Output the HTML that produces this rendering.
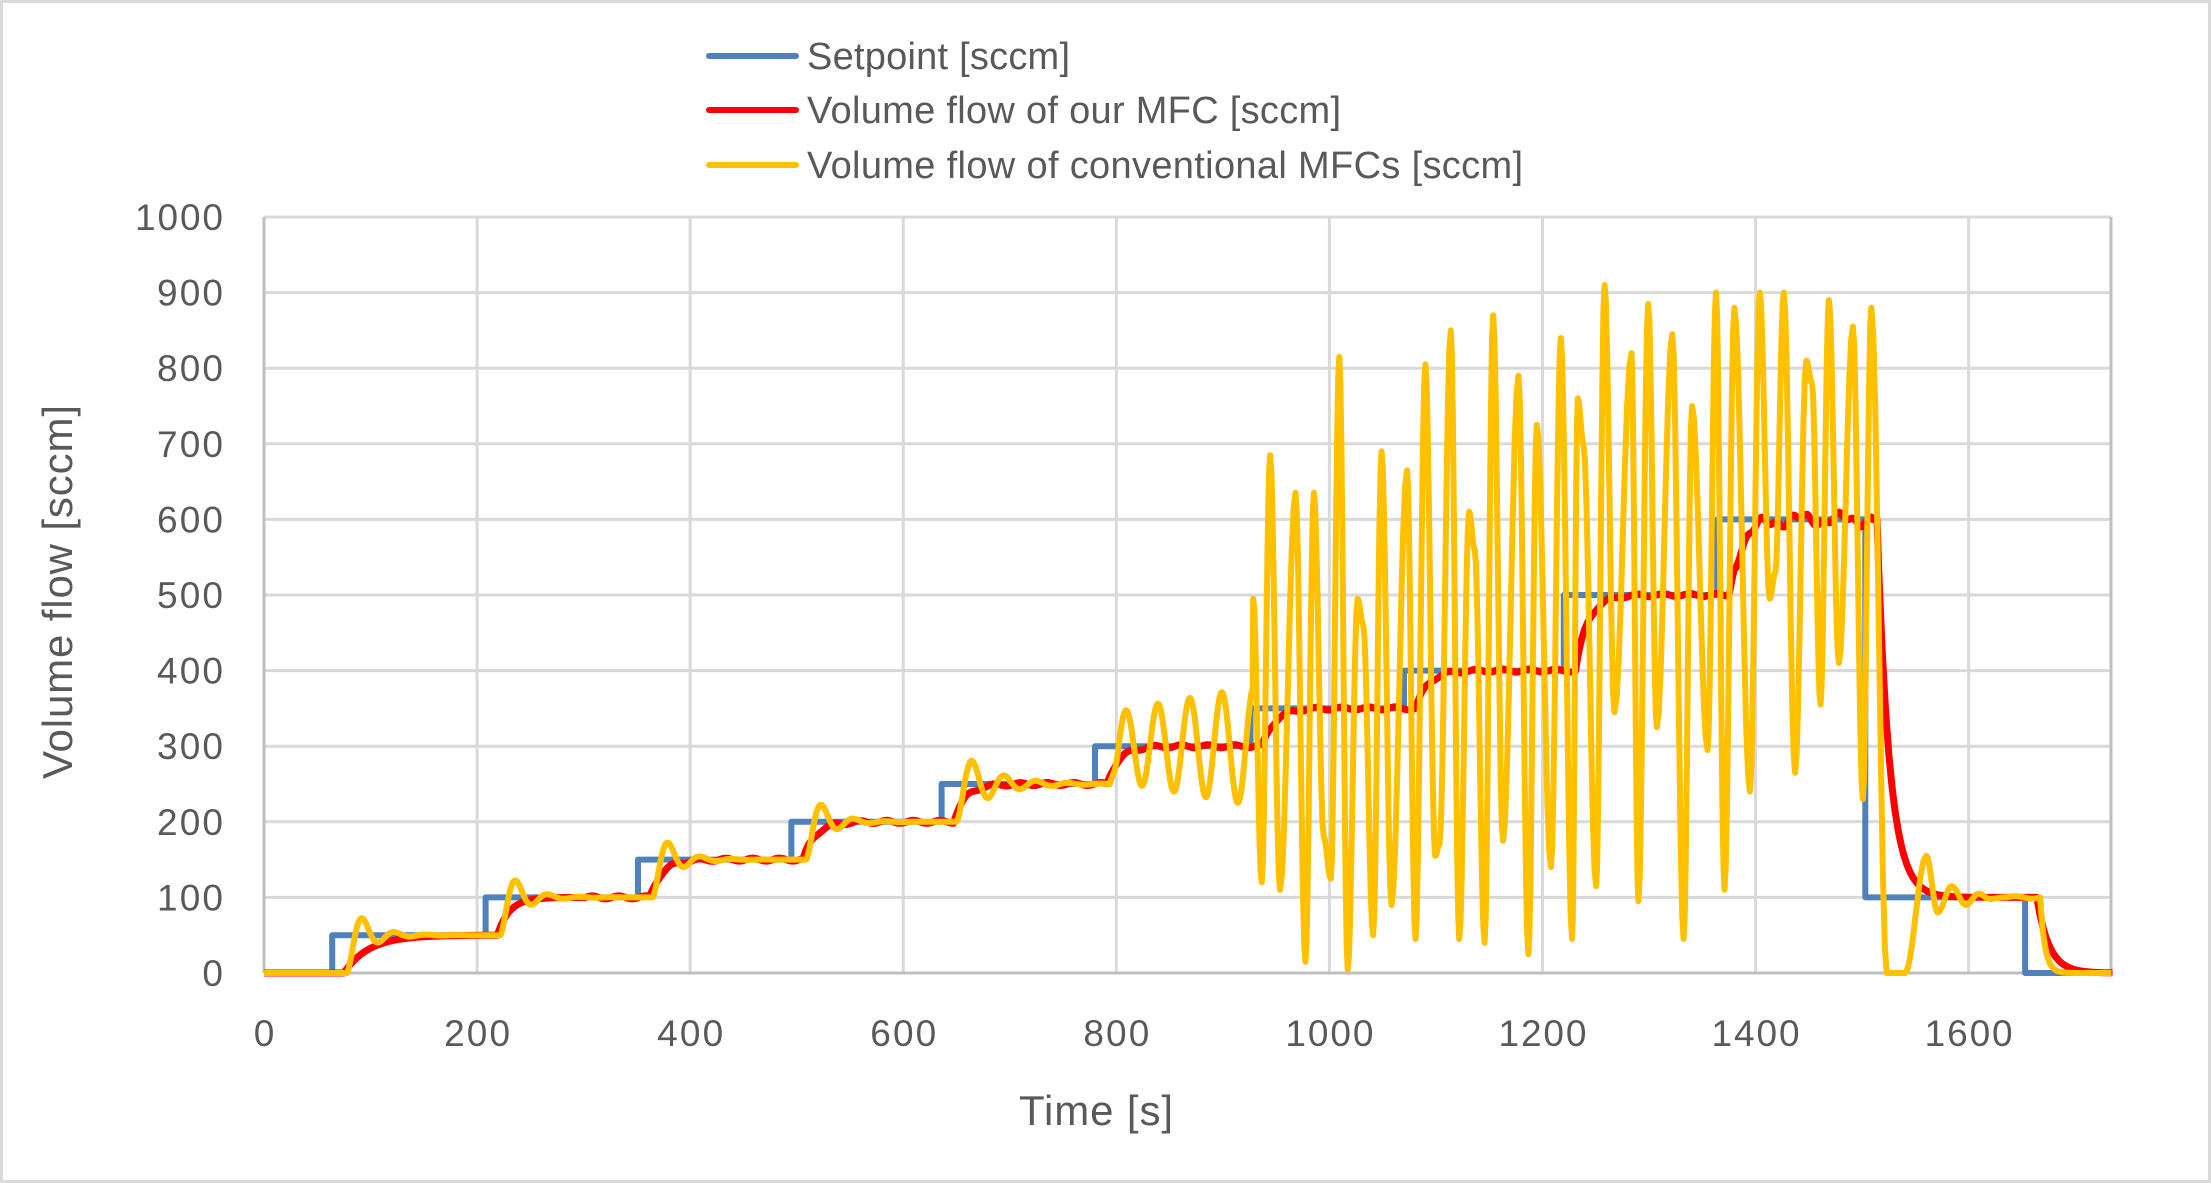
<!DOCTYPE html>
<html><head><meta charset="utf-8"><style>
html,body{margin:0;padding:0;background:#fff;}
svg{display:block;font-family:"Liberation Sans",sans-serif;}
</style></head><body>
<svg id="c" width="2211" height="1183" viewBox="0 0 2211 1183" xmlns="http://www.w3.org/2000/svg">
<rect x="1.5" y="1.5" width="2208" height="1180" fill="#fff" stroke="#d9d9d9" stroke-width="3"/>
<g id="grid" stroke="#d9d9d9" stroke-width="3"></g>
<g id="labels" fill="#595959" font-size="37"></g>
<text x="1096" y="1125" font-size="42" fill="#595959" text-anchor="middle" textLength="154">Time [s]</text>
<text transform="translate(72,592) rotate(-90)" font-size="42" fill="#595959" text-anchor="middle" textLength="374">Volume flow [sccm]</text>
<g font-size="38" fill="#595959">
<line x1="709" y1="56" x2="796" y2="56" stroke="#4f81bd" stroke-width="6" stroke-linecap="round"/>
<text x="807" y="69" textLength="263">Setpoint [sccm]</text>
<line x1="709" y1="110" x2="796" y2="110" stroke="#ff0000" stroke-width="6" stroke-linecap="round"/>
<text x="807" y="123" textLength="534">Volume flow of our MFC [sccm]</text>
<line x1="709" y1="165" x2="796" y2="165" stroke="#ffc000" stroke-width="6" stroke-linecap="round"/>
<text x="807" y="178" textLength="716">Volume flow of conventional MFCs [sccm]</text>
</g>
<g id="series" fill="none" stroke-linejoin="round"></g>
</svg>
<script>
var NS="http://www.w3.org/2000/svg";
function X(t){return 264+t*1.0654;}
function Y(v){return 973-v*0.756;}
var g=document.getElementById('grid'),L=document.getElementById('labels'),S=document.getElementById('series');
function el(p,tag,a,txt){var e=document.createElementNS(NS,tag);for(var k in a)e.setAttribute(k,a[k]);if(txt!=null)e.textContent=txt;p.appendChild(e);return e;}
for(var v=100;v<=1000;v+=100)el(g,'line',{x1:264,x2:2111,y1:Y(v),y2:Y(v)});
for(var t=200;t<=1600;t+=200)el(g,'line',{x1:X(t),x2:X(t),y1:217,y2:973});
el(g,'line',{x1:2111,x2:2111,y1:217,y2:973,stroke:'#bfbfbf'});
el(g,'line',{x1:264,x2:264,y1:217,y2:973,stroke:'#bfbfbf'});
el(g,'line',{x1:264,x2:2111,y1:973,y2:973,stroke:'#bfbfbf'});
for(var v=0;v<=1000;v+=100){var s=String(v);el(L,'text',{x:223,y:Y(v)+13,'text-anchor':'end',textLength:s.length*22},s);}
for(var t=0;t<=1600;t+=200){var s=String(t);el(L,'text',{x:X(t),y:1046,'text-anchor':'middle',textLength:s.length*22},s);}
var steps=[[0,0],[64,50],[208,100],[351,150],[495,200],[636,250],[780,300],[926,350],[1070,400],[1220,500],[1364,600],[1503,100],[1653,0],[1735,0]];
function sp(t){var s=0;for(var i=0;i<steps.length;i++)if(t>=steps[i][0])s=steps[i][1];return s;}
var d='M'+X(0)+','+Y(0);
for(var i=1;i<steps.length;i++){d+=' L'+X(steps[i][0])+','+Y(steps[i-1][1])+' L'+X(steps[i][0])+','+Y(steps[i][1]);}
el(S,'path',{d:d,stroke:'#4f81bd','stroke-width':6});
var r=0,pts=[];
for(var t=0;t<=1735;t+=1){var target=sp(t-12);var tau=(t<200)?24:12;r+=(target-r)/tau;var n=0;if(t>1380&&t<1510)n=6*Math.sin(t/6)+4*Math.sin(t/2.3);else if(t>300&&t<1500)n=2*Math.sin(t/4);pts.push(X(t).toFixed(1)+','+Y(r+n).toFixed(1));}
el(S,'path',{d:'M'+pts.join(' L'),stroke:'#ff0000','stroke-width':7});
function damp(t){var s=0,prev=0,t0=0;for(var i=0;i<steps.length;i++)if(t>=steps[i][0]+14){prev=(i>0?steps[i-1][1]:0);s=steps[i][1];t0=steps[i][0]+14;}
 var tt=t-t0;if(t0==0)return 0;var P=30,td=(s>=250?30:18);
 if(s>=300){var amp=45+tt*0.25;var base=s+(prev-s)*Math.exp(-tt/4);return base-amp*Math.cos(2*Math.PI*tt/P)*Math.min(1,tt/8);}
 return s+(prev-s)*Math.exp(-tt/td)*Math.cos(2*Math.PI*tt/P);}
var ext=[[888,495],[894,120],[900,685],[907,110],[918,635],[925,15],[931,635],[938,180],[943,125],[949,815],[955,5],[962,495],[966,460],[973,50],[979,690],[986,90],[997,665],[1003,45],[1010,805],[1017,155],[1020,170],[1028,850],[1034,45],[1041,610],[1045,560],[1052,40],[1058,870],[1065,175],[1076,790],[1083,25],[1089,725],[1099,140],[1106,840],[1114,45],[1118,760],[1122,700],[1131,115],[1137,910],[1144,345],[1156,820],[1161,95],[1168,885],[1174,325],[1185,845],[1193,45],[1199,750],[1210,295],[1216,900],[1222,110],[1229,880],[1240,240],[1247,900],[1254,495],[1258,530],[1264,900],[1272,265],[1280,810],[1284,780],[1290,355],[1296,890],[1303,410],[1313,855],[1320,230],[1326,880],[1337,0],[1350,0],[1365,155],[1373,80],[1383,115],[1393,90],[1402,105],[1410,98],[1420,100]];
var ye=ext.map(function(p){return[(p[0]-187)/0.755,p[1]];});
var yp=[];
for(var t=0;t<ye[0][0];t+=0.5){yp.push(X(t).toFixed(1)+','+Y(Math.max(0,damp(t))).toFixed(1));}
for(var i=0;i<ye.length-1;i++){var a=ye[i],b=ye[i+1];for(var k=0;k<=8;k++){var f=k/8,c=(1-Math.cos(Math.PI*f))/2;yp.push(X(a[0]+(b[0]-a[0])*f).toFixed(1)+','+Y(a[1]+(b[1]-a[1])*c).toFixed(1));}}
var yv=100;for(var t=ye[ye.length-1][0];t<=1735;t+=1){var tg=(t<1668)?100+2*Math.sin(t/5):0;yv+=(tg-yv)/(t<1668?4:5);yp.push(X(t).toFixed(1)+','+Y(yv).toFixed(1));}
el(S,'path',{d:'M'+yp.join(' L'),stroke:'#ffc000','stroke-width':6});
</script>
</body></html>
